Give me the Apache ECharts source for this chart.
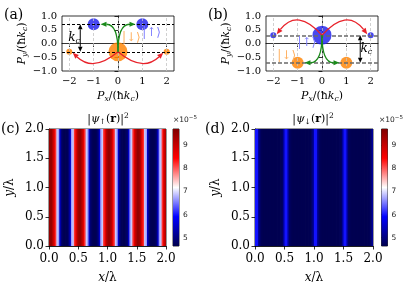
<!DOCTYPE html>
<html><head><meta charset="utf-8">
<script src="https://cdn.jsdelivr.net/npm/echarts@6/dist/echarts.min.js"></script>
<style>html,body{margin:0;padding:0;background:#fff}#c{width:415px;height:290px}</style>
</head><body><div id="c"></div>
<script>
// ---------- Panel (a) ----------
const abTicks = [-2, -1, 0, 1, 2];
const aUpX = [-1, 1], aUpY = [0.7, 0.7], aUpAmp = [0.63, 0.63];
const aDnX = [-2, 0, 2], aDnY = [-0.3, -0.3, -0.3], aDnAmp = [0.32, 1.0, 0.32];
const aLevels = [0.7, -0.3];
// curved arrows: [x0, y0, ctrlX, ctrlY, x1, y1]
const aGreen = [[0, -0.3, 0, 0.7, -0.72, 0.7], [0, -0.3, 0, 0.7, 0.72, 0.7]];
const aRed = [[0, -0.3, -1, -1.05, -1.86, -0.34], [0, -0.3, 1, -1.05, 1.86, -0.34]];
const aKc = [[-1.55, 0.7, -0.3]];
const aTextX = [1.38, 0.55, -1.8], aTextY = [0.4, 0.22, 0.2], aTextKey = ['up', 'dn', 'kc'];
// ---------- Panel (b) ----------
const bUpX = [-2, 0, 2], bUpY = [0.3, 0.3, 0.3], bUpAmp = [0.32, 1.0, 0.32];
const bDnX = [-1, 1], bDnY = [-0.7, -0.7], bDnAmp = [0.63, 0.63];
const bLevels = [0.3, -0.7];
const bRed = [[0, 0.3, -1, 1.3, -1.86, 0.34], [0, 0.3, 1, 1.3, 1.86, 0.34]];
const bGreen = [[0, 0.3, 0, -0.7, -0.72, -0.7], [0, 0.3, 0, -0.7, 0.72, -0.7]];
const bKc = [[1.57, 0.3, -0.7]];
const bTextX = [-0.62, -1.45, 1.82], bTextY = [0.04, -0.45, -0.2], bTextKey = ['up', 'dn', 'kc'];
// ---------- Panels (c), (d): column values (x 0..2, 80 columns), units 1e-5 ----------
const heatX = [0, 2], heatY = [0, 2];
const cVals = [
  9.5,9.5,9.2,8.7,8.2,6.9,6.7,5.5,4.9,4.72,4.68,4.68,4.72,4.9,5.5,6.7,6.9,8.2,8.7,9.2,
  9.5,9.5,9.2,8.7,8.2,6.9,6.7,5.5,4.9,4.72,4.68,4.68,4.72,4.9,5.5,6.7,6.9,8.2,8.7,9.2,
  9.5,9.5,9.2,8.7,8.2,6.9,6.7,5.5,4.9,4.72,4.68,4.68,4.72,4.9,5.5,6.7,6.9,8.2,8.7,9.2,
  9.5,9.5,9.2,8.7,8.2,6.9,6.7,5.5,4.9,4.72,4.68,4.68,4.72,4.9,5.5,6.7,6.9,8.2,8.7,9.2];
const dVals = [
  6.0,6.0,5.2,4.8,4.7,4.67,4.67,4.67,4.67,4.67,4.67,4.67,4.67,4.67,4.67,4.67,4.67,4.7,4.8,5.2,
  6.0,6.0,5.2,4.8,4.7,4.67,4.67,4.67,4.67,4.67,4.67,4.67,4.67,4.67,4.67,4.67,4.67,4.7,4.8,5.2,
  6.0,6.0,5.2,4.8,4.7,4.67,4.67,4.67,4.67,4.67,4.67,4.67,4.67,4.67,4.67,4.67,4.67,4.7,4.8,5.2,
  6.0,6.0,5.2,4.8,4.7,4.67,4.67,4.67,4.67,4.67,4.67,4.67,4.67,4.67,4.67,4.67,4.67,4.7,4.8,5.2];
const cbRange = [4.64, 9.70];
const cbTicks = [5, 6, 7, 8, 9];

// ---------- styling ----------
const SERIF = "'DejaVu Serif', 'Liberation Serif', serif";
const SANS = "'DejaVu Sans', sans-serif";
const BLUE = 'rgba(40,40,235,0.85)';
const ORANGE = 'rgba(255,135,10,0.85)';
const seismic = ['#00004d', '#0000ff', '#ffffff', '#ff0000', '#800000'];
const minus = s => String(s).replace('-', '\u2212');

const richBase = {
  n: {fontFamily: SERIF, fontSize: 11, lineHeight: 14},
  i: {fontFamily: SERIF, fontSize: 11, fontStyle: 'italic', lineHeight: 14},
  s: {fontFamily: SERIF, fontSize: 7.5, fontStyle: 'italic', lineHeight: 8, verticalAlign: 'bottom'},
  su: {fontFamily: SERIF, fontSize: 7.5, lineHeight: 8, verticalAlign: 'bottom'},
  p: {fontFamily: SERIF, fontSize: 7.5, lineHeight: 8, verticalAlign: 'top'},
  b: {fontFamily: SERIF, fontSize: 11, fontWeight: 'bold', lineHeight: 14}
};

function curveArrow(color) {
  return function (params, api) {
    const p0 = api.coord([api.value(0), api.value(1)]);
    const c = api.coord([api.value(2), api.value(3)]);
    const p1 = api.coord([api.value(4), api.value(5)]);
    let dx = p1[0] - c[0], dy = p1[1] - c[1];
    const L = Math.hypot(dx, dy) || 1; dx /= L; dy /= L;
    const hl = 6, hw = 2.6;
    const bx = p1[0] - dx * hl, by = p1[1] - dy * hl;
    return {type: 'group', children: [
      {type: 'bezierCurve', shape: {x1: p0[0], y1: p0[1], cpx1: c[0], cpy1: c[1], x2: bx, y2: by},
       style: {stroke: color, lineWidth: 1.3, fill: 'none'}},
      {type: 'polygon', shape: {points: [[p1[0], p1[1]], [bx - dy * hw, by + dx * hw], [bx + dy * hw, by - dx * hw]]},
       style: {fill: color}}
    ]};
  };
}
function kcArrow(params, api) {
  const p0 = api.coord([api.value(0), api.value(1)]);
  const p1 = api.coord([api.value(0), api.value(2)]);
  const hl = 5, hw = 2.3;
  return {type: 'group', children: [
    {type: 'line', shape: {x1: p0[0], y1: p0[1] + hl, x2: p1[0], y2: p1[1] - hl}, style: {stroke: '#000', lineWidth: 1}},
    {type: 'polygon', shape: {points: [[p0[0], p0[1]], [p0[0] - hw, p0[1] + hl], [p0[0] + hw, p0[1] + hl]]}, style: {fill: '#000'}},
    {type: 'polygon', shape: {points: [[p1[0], p1[1]], [p1[0] - hw, p1[1] - hl], [p1[0] + hw, p1[1] - hl]]}, style: {fill: '#000'}}
  ]};
}
const labelText = {
  up: {text: '|\u2191\u27E9', fill: '#8080ff'},
  dn: {text: '|\u2193\u27E9', fill: '#ffb060'},
  kc: {text: '{i|k}{s|c}', fill: '#000'}
};
function textRender(keys) {
  return function (params, api) {
    const p = api.coord([api.value(0), api.value(1)]);
    const t = labelText[keys[params.dataIndex]];
    return {type: 'text', x: p[0], y: p[1], style: {
      text: t.text, fill: t.fill, font: '12px ' + SERIF, align: 'center', verticalAlign: 'middle',
      rich: {i: {fontFamily: SERIF, fontSize: 12, fontStyle: 'italic', fill: t.fill, lineHeight: 14},
             s: {fontFamily: SERIF, fontSize: 8, fontStyle: 'italic', fill: t.fill, lineHeight: 8, verticalAlign: 'bottom'}}
    }};
  };
}
function heatRender(params, api) {
  const x0 = api.value(0), x1 = api.value(1);
  const p0 = api.coord([x0, heatY[1]]), p1 = api.coord([x1, heatY[0]]);
  return {type: 'rect', shape: {x: p0[0], y: p0[1], width: p1[0] - p0[0] + 0.8, height: p1[1] - p0[1]},
          style: {fill: api.visual('color'), lineWidth: 0}};
}
function heatData(vals) {
  const dx = (heatX[1] - heatX[0]) / vals.length;
  return vals.map((v, i) => [heatX[0] + i * dx, heatX[0] + (i + 1) * dx, v]);
}
function cbRender(params, api) {
  const p0 = api.coord([0, api.value(1)]), p1 = api.coord([1, api.value(0)]);
  return {type: 'rect', shape: {x: p0[0], y: p0[1], width: p1[0] - p0[0], height: p1[1] - p0[1]},
    style: {fill: new echarts.graphic.LinearGradient(0, 0, 0, 1, [
      {offset: 0, color: seismic[4]}, {offset: 0.25, color: seismic[3]}, {offset: 0.5, color: seismic[2]},
      {offset: 0.75, color: seismic[1]}, {offset: 1, color: seismic[0]}])}};
}

const gridStyle = {show: true, borderColor: '#000', borderWidth: 0.8, containLabel: false};
const grids = [
  Object.assign({left: 62, top: 16, width: 112, height: 55}, gridStyle),
  Object.assign({left: 266, top: 16, width: 112, height: 55}, gridStyle),
  Object.assign({left: 49, top: 129, width: 117, height: 117}, gridStyle),
  Object.assign({left: 173, top: 129, width: 6, height: 117}, gridStyle),
  Object.assign({left: 255, top: 129, width: 118, height: 117}, gridStyle),
  Object.assign({left: 381.5, top: 129, width: 6, height: 117}, gridStyle)
];
const axLine = {show: true, lineStyle: {color: '#000', width: 0.8}};
const tick = {show: true, inside: false, length: 3.5, lineStyle: {color: '#000', width: 0.8}};
const pxName = '{i|P}{s|x}{n|/(ħ}{i|k}{s|c}{n|)}';
const pyName = '{i|P}{s|y}{n|/(ħ}{i|k}{s|c}{n|)}';
function abX(gi) {
  return {gridIndex: gi, type: 'value', min: -2.3, max: 2.3,
    axisLine: axLine, axisTick: Object.assign({customValues: abTicks}, tick),
    axisLabel: {customValues: abTicks, formatter: v => minus(v), fontFamily: SERIF, fontSize: 10, color: '#000', margin: 5},
    splitLine: {show: false},
    name: pxName, nameLocation: 'middle', nameGap: 18, nameTextStyle: {rich: richBase}};
}
function abY(gi) {
  return {gridIndex: gi, type: 'value', min: -1, max: 1, interval: 0.5,
    axisLine: axLine, axisTick: tick,
    axisLabel: {formatter: v => minus(v.toFixed(1)), fontFamily: SERIF, fontSize: 10, color: '#000', margin: 5},
    splitLine: {show: false},
    name: pyName, nameLocation: 'middle', nameGap: 30, nameTextStyle: {rich: richBase}};
}
function hX(gi) {
  return {gridIndex: gi, type: 'value', min: 0, max: 2, interval: 0.5,
    axisLine: axLine, axisTick: tick,
    axisLabel: {formatter: v => v.toFixed(1), fontFamily: SERIF, fontSize: 12, color: '#000', margin: 7},
    splitLine: {show: false},
    name: '{i|x}{n|/λ}', nameLocation: 'middle', nameGap: 26,
    nameTextStyle: {rich: {i: {fontFamily: SERIF, fontSize: 12, fontStyle: 'italic'}, n: {fontFamily: SERIF, fontSize: 12}}}};
}
function hY(gi) {
  return {gridIndex: gi, type: 'value', min: 0, max: 2, interval: 0.5,
    axisLine: axLine, axisTick: tick,
    axisLabel: {formatter: v => v.toFixed(1), fontFamily: SERIF, fontSize: 12, color: '#000', margin: 5},
    splitLine: {show: false},
    name: '{i|y}{n|/λ}', nameLocation: 'middle', nameGap: 33,
    nameTextStyle: {rich: {i: {fontFamily: SERIF, fontSize: 12, fontStyle: 'italic'}, n: {fontFamily: SERIF, fontSize: 12}}}};
}
function cbX(gi) { return {gridIndex: gi, type: 'value', min: 0, max: 1, show: false}; }
function cbY(gi) {
  return {gridIndex: gi, type: 'value', min: cbRange[0], max: cbRange[1], position: 'right',
    axisLine: {show: false}, axisTick: {show: true, customValues: cbTicks, length: 2.5, lineStyle: {color: '#000', width: 0.7}},
    axisLabel: {customValues: cbTicks, fontFamily: SANS, fontSize: 7.5, color: '#222', margin: 4},
    splitLine: {show: false}};
}

function marks(levels, levelStyle) {
  return {symbol: ['none', 'none'], silent: true, animation: false, label: {show: false},
    data: abTicks.map(v => ({xAxis: v, lineStyle: {color: '#c4c4c4', type: [3, 2], width: 0.8}}))
      .concat(levels.map(v => ({yAxis: v, lineStyle: levelStyle})))};
}
function circles(gi, xs, ys, amps, color, z) {
  return {type: 'scatter', xAxisIndex: gi, yAxisIndex: gi, z: z,
    data: xs.map((x, i) => [x, ys[i], amps[i]]),
    symbolSize: v => 19 * v[2], itemStyle: {color: color, opacity: 1}};
}
function arrows(gi, data, color) {
  return {type: 'custom', xAxisIndex: gi, yAxisIndex: gi, z: 5, data: data,
    encode: {x: [0, 2, 4], y: [1, 3, 5]}, renderItem: curveArrow(color), clip: false};
}

const option = {
  animation: false,
  backgroundColor: '#fff',
  grid: grids,
  xAxis: [abX(0), abX(1), hX(2), cbX(3), hX(4), cbX(5)],
  yAxis: [abY(0), abY(1), hY(2), cbY(3), hY(4), cbY(5)],
  visualMap: [{type: 'continuous', show: false, min: cbRange[0], max: cbRange[1], dimension: 2,
    seriesIndex: [12, 14], inRange: {color: seismic}}],
  series: [
    {type: 'scatter', xAxisIndex: 0, yAxisIndex: 0, z: 1, data: [],
      markLine: marks(aLevels, {color: '#000', type: [3, 2], width: 1})},
    circles(0, aDnX, aDnY, aDnAmp, ORANGE, 2),
    circles(0, aUpX, aUpY, aUpAmp, BLUE, 2),
    arrows(0, aRed, '#e8222a'),
    arrows(0, aGreen, '#1a8a1a'),
    {type: 'custom', xAxisIndex: 0, yAxisIndex: 0, z: 5, data: aKc, encode: {x: 0, y: [1, 2]}, renderItem: kcArrow},
    {type: 'scatter', xAxisIndex: 1, yAxisIndex: 1, z: 1, data: [],
      markLine: marks(bLevels, {color: '#6a6a6a', type: [4, 2], width: 1.5})},
    circles(1, bUpX, bUpY, bUpAmp, BLUE, 2),
    circles(1, bDnX, bDnY, bDnAmp, ORANGE, 2),
    arrows(1, bRed, '#e8222a'),
    arrows(1, bGreen, '#1a8a1a'),
    {type: 'custom', xAxisIndex: 1, yAxisIndex: 1, z: 5, data: bKc, encode: {x: 0, y: [1, 2]}, renderItem: kcArrow},
    {type: 'custom', xAxisIndex: 2, yAxisIndex: 2, data: heatData(cVals), encode: {x: [0, 1]}, renderItem: heatRender, clip: true},
    {type: 'custom', xAxisIndex: 3, yAxisIndex: 3, data: [cbRange.slice()], encode: {y: [0, 1]}, renderItem: cbRender},
    {type: 'custom', xAxisIndex: 4, yAxisIndex: 4, data: heatData(dVals), encode: {x: [0, 1]}, renderItem: heatRender, clip: true},
    {type: 'custom', xAxisIndex: 5, yAxisIndex: 5, data: [cbRange.slice()], encode: {y: [0, 1]}, renderItem: cbRender},
    {type: 'custom', xAxisIndex: 0, yAxisIndex: 0, z: 6, data: aTextX.map((x, i) => [x, aTextY[i]]), renderItem: textRender(aTextKey)},
    {type: 'custom', xAxisIndex: 1, yAxisIndex: 1, z: 6, data: bTextX.map((x, i) => [x, bTextY[i]]), renderItem: textRender(bTextKey)}
  ],
  graphic: [
    {type: 'text', x: 4, y: 8, style: {text: '(a)', font: '14px ' + SERIF, fill: '#000'}},
    {type: 'text', x: 208, y: 8, style: {text: '(b)', font: '14px ' + SERIF, fill: '#000'}},
    {type: 'text', x: 1, y: 122, style: {text: '(c)', font: '14px ' + SERIF, fill: '#000'}},
    {type: 'text', x: 205, y: 122, style: {text: '(d)', font: '14px ' + SERIF, fill: '#000'}},
    {type: 'text', x: 108, y: 119, style: {text: '{n||}{i|ψ}{su|↑}{n|(}{b|r}{n|)|}{p|2}', align: 'center', verticalAlign: 'middle', rich: richBase}},
    {type: 'text', x: 313, y: 119, style: {text: '{n||}{i|ψ}{su|↓}{n|(}{b|r}{n|)|}{p|2}', align: 'center', verticalAlign: 'middle', rich: richBase}},
    {type: 'text', x: 185, y: 120, style: {text: '{a|×10}{e|−5}', align: 'center', verticalAlign: 'middle',
      rich: {a: {fontFamily: SANS, fontSize: 7.5, fill: '#222', lineHeight: 10}, e: {fontFamily: SANS, fontSize: 5.5, fill: '#222', lineHeight: 6, verticalAlign: 'top'}}}},
    {type: 'text', x: 391, y: 120, style: {text: '{a|×10}{e|−5}', align: 'center', verticalAlign: 'middle',
      rich: {a: {fontFamily: SANS, fontSize: 7.5, fill: '#222', lineHeight: 10}, e: {fontFamily: SANS, fontSize: 5.5, fill: '#222', lineHeight: 6, verticalAlign: 'top'}}}}
  ]
};
const chart = echarts.init(document.getElementById('c'), null, {renderer: 'canvas', width: 415, height: 290});
chart.setOption(option);
</script>
</body></html>
